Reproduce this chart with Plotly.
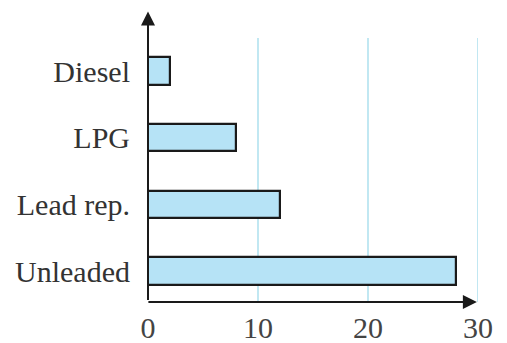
import plotly.graph_objects as go

categories = ["Unleaded", "Lead rep.", "LPG", "Diesel"]
values = [28, 12, 8, 2]
x_ticks = [0, 10, 20, 30]

fig = go.Figure()
fig.add_trace(go.Bar(
    x=values, y=categories, orientation="h",
    width=0.41,
    marker=dict(color="#b6e3f6", line=dict(color="#1a1a1a", width=2.2)),
    hoverinfo="skip",
))

# vertical gridlines (only at 10, 20, 30), drawn in data coords
for t in x_ticks[1:]:
    fig.add_shape(type="line", xref="x", yref="paper", x0=t, x1=t, y0=0, y1=1,
                  line=dict(color="#98d8ea", width=1.2), layer="below")

# axis arrows
fig.add_annotation(xref="x", yref="paper", x=0, y=1.10, ax=0, ay=290,
                   axref="pixel", ayref="pixel", showarrow=True, text="",
                   arrowhead=2, arrowsize=1.4, arrowwidth=2, arrowcolor="#1a1a1a")
fig.add_annotation(xref="x", yref="paper", x=29.9, y=0, ax=-330, ay=0,
                   axref="pixel", ayref="pixel", showarrow=True, text="",
                   arrowhead=2, arrowsize=1.4, arrowwidth=2, arrowcolor="#1a1a1a")

fig.update_layout(
    width=507, height=343,
    margin=dict(l=148, r=29, t=38, b=41, autoexpand=False),
    paper_bgcolor="white", plot_bgcolor="white",
    showlegend=False,
    font=dict(family="Liberation Serif", size=30, color="#333333"),
    bargap=0,
)
fig.update_xaxes(range=[0, 30], tickvals=x_ticks, ticktext=[str(t) for t in x_ticks],
                 showgrid=False, zeroline=False, showline=False, ticks="",
                 automargin=False,
                 ticklabelstandoff=5, tickfont=dict(size=30, color="#444444"))
fig.update_yaxes(type="category", categoryarray=categories, range=[-0.465, 3.495],
                 showgrid=False, zeroline=False, showline=False, ticks="",
                 automargin=False,
                 ticklabelstandoff=17, tickfont=dict(size=30, color="#333333"))

fig.write_html("out.html", config={"displayModeBar": False},
               post_script="document.body.style.margin='0';document.body.style.overflow='hidden';")
